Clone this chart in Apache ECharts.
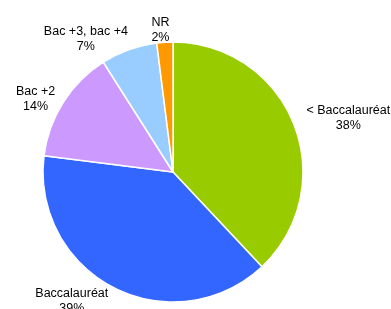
<!DOCTYPE html>
<html>
<head>
<meta charset="utf-8">
<script src="https://cdn.jsdelivr.net/npm/echarts@6/dist/echarts.min.js"></script>
<style>
  html, body { margin: 0; padding: 0; background: #fff; }
  #chart { width: 391px; height: 309px; }
</style>
</head>
<body>
<div id="chart"></div>
<script>
// niveau de diplôme
var categories = ["< Baccalauréat", "Baccalauréat", "Bac +2", "Bac +3, bac +4", "NR"];
var values = [38, 39, 14, 7, 2];
var colors = ["#99CC00", "#3366FF", "#CC99FF", "#99CCFF", "#FF9900"];

var chart = echarts.init(document.getElementById("chart"));

var seriesData = [];
for (var i = 0; i < categories.length; i++) {
  seriesData.push({ name: categories[i], value: values[i] });
}

var option = {
  animation: false,
  color: colors,
  series: [
    {
      type: "pie",
      center: [173, 172],
      radius: 130,
      startAngle: 90,
      clockwise: true,
      avoidLabelOverlap: false,
      data: seriesData,
      itemStyle: {
        borderColor: "#fff",
        borderWidth: 1.5
      },
      label: {
        show: true,
        position: "outside",
        formatter: "{b}\n{d}%",
        fontFamily: "Liberation Sans, Arial, sans-serif",
        fontSize: 12.5,
        lineHeight: 15,
        color: "#000",
        overflow: "none"
      },
      labelLine: {
        show: false,
        length: 6,
        length2: 0
      },
      // centre les deux lignes de chaque étiquette + petit décalage façon Excel
      labelLayout: function(params) {
        var r = params.labelRect;
        var shift = [[2, -4], [2, 8], [2, 0], [6, -5], [10, -6]][params.dataIndex] || [0, 0];
        return {
          x: r.x + r.width / 2 + shift[0],
          y: r.y + r.height / 2 + shift[1],
          align: "center",
          verticalAlign: "middle"
        };
      },
      emphasis: { disabled: true }
    }
  ]
};
chart.setOption(option);
window.addEventListener("resize", function() {
  chart.resize();
});
</script>
</body>
</html>
